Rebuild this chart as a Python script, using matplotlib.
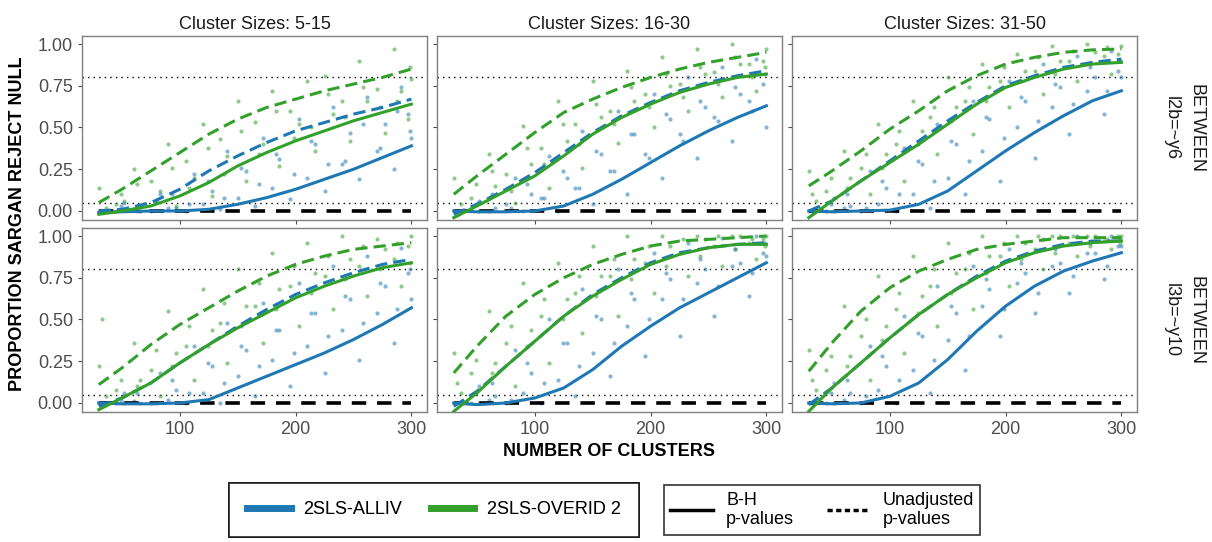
import numpy as np
import matplotlib
matplotlib.use("Agg")
import matplotlib.pyplot as plt
from matplotlib.lines import Line2D

plt.rcParams['font.family'] = ['Liberation Sans', 'DejaVu Sans']

BLUE = '#1F78B4'
GREEN = '#33A02C'

col_titles = ['Cluster Sizes: 5-15', 'Cluster Sizes: 16-30', 'Cluster Sizes: 31-50']
row_labels = ['l2b=~y6', 'l3b=~y10']

# smooth curves
x_curve = [30, 50, 75, 100, 125, 150, 175, 200, 225, 250, 275, 300]
curves = {
    # (row, col): green dashed, green solid, blue dashed, blue solid
    (0, 0): ([0.05, 0.13, 0.24, 0.35, 0.46, 0.55, 0.62, 0.67, 0.72, 0.76, 0.80, 0.85],
             [-0.02, 0.0, 0.03, 0.09, 0.17, 0.27, 0.35, 0.42, 0.48, 0.54, 0.59, 0.64],
             [0.0, 0.01, 0.05, 0.13, 0.24, 0.33, 0.41, 0.48, 0.53, 0.58, 0.62, 0.67],
             [-0.01, -0.005, 0.0, 0.0, 0.01, 0.04, 0.08, 0.13, 0.19, 0.25, 0.32, 0.39]),
    (0, 1): ([0.10, 0.21, 0.34, 0.47, 0.59, 0.67, 0.74, 0.80, 0.85, 0.89, 0.92, 0.95],
             [-0.04, 0.03, 0.12, 0.21, 0.33, 0.46, 0.56, 0.64, 0.71, 0.76, 0.80, 0.82],
             [-0.02, 0.04, 0.13, 0.23, 0.35, 0.47, 0.57, 0.65, 0.72, 0.77, 0.81, 0.84],
             [0.0, -0.005, -0.005, 0.0, 0.03, 0.10, 0.19, 0.29, 0.39, 0.48, 0.56, 0.63]),
    (0, 2): ([0.15, 0.24, 0.36, 0.49, 0.60, 0.72, 0.81, 0.88, 0.92, 0.95, 0.965, 0.97],
             [-0.04, 0.06, 0.18, 0.29, 0.40, 0.52, 0.64, 0.74, 0.80, 0.85, 0.88, 0.89],
             [0.0, 0.06, 0.18, 0.30, 0.42, 0.54, 0.65, 0.75, 0.81, 0.86, 0.89, 0.91],
             [0.0, -0.005, 0.0, 0.005, 0.04, 0.12, 0.24, 0.36, 0.47, 0.57, 0.66, 0.72]),
    (1, 0): ([0.11, 0.21, 0.35, 0.47, 0.57, 0.67, 0.76, 0.83, 0.88, 0.92, 0.94, 0.96],
             [-0.04, 0.03, 0.12, 0.24, 0.35, 0.45, 0.54, 0.63, 0.70, 0.76, 0.81, 0.84],
             [-0.02, 0.03, 0.12, 0.24, 0.35, 0.46, 0.56, 0.65, 0.72, 0.78, 0.83, 0.86],
             [0.0, -0.005, -0.005, 0.0, 0.02, 0.09, 0.16, 0.23, 0.30, 0.38, 0.47, 0.57]),
    (1, 1): ([0.18, 0.34, 0.52, 0.65, 0.75, 0.83, 0.89, 0.94, 0.97, 0.98, 0.99, 1.00],
             [-0.05, 0.06, 0.22, 0.37, 0.52, 0.64, 0.74, 0.83, 0.89, 0.93, 0.95, 0.95],
             [-0.02, 0.07, 0.22, 0.37, 0.52, 0.65, 0.75, 0.84, 0.90, 0.93, 0.95, 0.96],
             [0.0, -0.01, 0.0, 0.03, 0.09, 0.20, 0.34, 0.46, 0.57, 0.66, 0.75, 0.84]),
    (1, 2): ([0.19, 0.36, 0.55, 0.69, 0.79, 0.86, 0.92, 0.95, 0.97, 0.99, 0.99, 0.99],
             [-0.05, 0.09, 0.24, 0.39, 0.53, 0.65, 0.75, 0.84, 0.90, 0.94, 0.96, 0.97],
             [-0.01, 0.09, 0.24, 0.39, 0.53, 0.65, 0.76, 0.85, 0.91, 0.95, 0.97, 0.97],
             [0.0, -0.005, 0.0, 0.04, 0.12, 0.26, 0.43, 0.58, 0.70, 0.79, 0.85, 0.90]),
}

# scatter of the individual conditions (a thinned reading of the clouds)
x_pts = [30, 45, 60, 75, 90, 105, 120, 135, 150, 165, 180, 195, 210, 225, 240, 255, 270, 285, 300]
x_pts2 = [36, 52, 66, 83, 97, 112, 128, 141, 157, 172, 186, 203, 217, 232, 247, 262, 277, 291, 297]
x_pts3 = [33, 49, 63, 79, 93, 108, 124, 138, 153, 168, 183, 199, 213, 228, 243, 258, 273, 288, 299]
points = {
    # green upper, green lower, green middle, blue upper, blue lower, blue middle
    (0, 0): ([0.14, 0.04, 0.25, 0.18, 0.40, 0.30, 0.52, 0.43, 0.66, 0.53, 0.72, 0.60, 0.78, 0.81, 0.66, 0.90, 0.73, 0.97, 0.79],
             [0.02, 0.06, 0.00, 0.12, 0.03, 0.20, 0.09, 0.33, 0.18, 0.40, 0.27, 0.52, 0.36, 0.58, 0.42, 0.66, 0.47, 0.72, 0.55],
             [0.00, 0.10, 0.16, 0.06, 0.26, 0.14, 0.38, 0.22, 0.48, 0.34, 0.60, 0.44, 0.50, 0.70, 0.56, 0.74, 0.62, 0.66, 0.86],
             [0.00, 0.05, 0.00, 0.10, 0.02, 0.22, 0.12, 0.36, 0.24, 0.44, 0.31, 0.55, 0.40, 0.62, 0.47, 0.68, 0.52, 0.74, 0.58],
             [0.00, 0.00, 0.01, 0.00, 0.02, 0.00, 0.04, 0.01, 0.08, 0.03, 0.14, 0.07, 0.20, 0.12, 0.28, 0.19, 0.36, 0.25, 0.44],
             [0.00, 0.03, 0.00, 0.06, 0.10, 0.04, 0.18, 0.08, 0.26, 0.16, 0.34, 0.22, 0.42, 0.28, 0.30, 0.52, 0.38, 0.60, 0.48]),
    (0, 1): ([0.20, 0.08, 0.34, 0.22, 0.51, 0.38, 0.66, 0.52, 0.78, 0.60, 0.84, 0.70, 0.92, 0.76, 0.97, 0.83, 1.00, 0.88, 0.97],
             [0.04, 0.00, 0.15, 0.05, 0.28, 0.14, 0.42, 0.26, 0.56, 0.41, 0.66, 0.50, 0.75, 0.60, 0.82, 0.68, 0.88, 0.72, 0.90],
             [0.00, 0.16, 0.24, 0.12, 0.38, 0.28, 0.52, 0.40, 0.64, 0.52, 0.74, 0.62, 0.82, 0.68, 0.86, 0.76, 0.92, 0.80, 0.86],
             [0.00, 0.06, 0.02, 0.20, 0.10, 0.33, 0.20, 0.48, 0.34, 0.60, 0.46, 0.70, 0.55, 0.80, 0.62, 0.86, 0.70, 0.91, 0.76],
             [0.00, 0.01, 0.00, 0.04, 0.00, 0.08, 0.00, 0.14, 0.04, 0.24, 0.10, 0.34, 0.20, 0.46, 0.32, 0.56, 0.42, 0.66, 0.50],
             [0.00, 0.04, 0.10, 0.02, 0.16, 0.08, 0.24, 0.14, 0.36, 0.24, 0.46, 0.32, 0.58, 0.42, 0.66, 0.54, 0.74, 0.60, 0.82]),
    (0, 2): ([0.24, 0.12, 0.36, 0.26, 0.52, 0.40, 0.66, 0.56, 0.80, 0.66, 0.88, 0.78, 0.94, 0.84, 0.99, 0.90, 1.00, 0.93, 0.99],
             [0.06, 0.00, 0.20, 0.10, 0.34, 0.18, 0.48, 0.34, 0.62, 0.46, 0.74, 0.62, 0.84, 0.70, 0.90, 0.78, 0.95, 0.82, 0.94],
             [0.10, 0.20, 0.14, 0.34, 0.26, 0.48, 0.40, 0.62, 0.54, 0.74, 0.66, 0.86, 0.78, 0.92, 0.82, 0.96, 0.88, 0.98, 0.90],
             [0.00, 0.08, 0.03, 0.24, 0.14, 0.38, 0.28, 0.52, 0.40, 0.66, 0.55, 0.78, 0.66, 0.88, 0.74, 0.93, 0.80, 0.96, 0.84],
             [0.00, 0.00, 0.02, 0.00, 0.04, 0.00, 0.10, 0.02, 0.20, 0.10, 0.36, 0.18, 0.50, 0.32, 0.62, 0.46, 0.72, 0.58, 0.80],
             [0.00, 0.04, 0.10, 0.02, 0.18, 0.10, 0.30, 0.18, 0.42, 0.30, 0.56, 0.44, 0.68, 0.54, 0.76, 0.64, 0.86, 0.72, 0.90]),
    (1, 0): ([0.22, 0.08, 0.36, 0.20, 0.55, 0.34, 0.68, 0.48, 0.80, 0.58, 0.90, 0.70, 0.96, 0.76, 1.00, 0.82, 0.98, 0.86, 1.00],
             [0.04, 0.00, 0.14, 0.04, 0.30, 0.14, 0.44, 0.24, 0.58, 0.36, 0.68, 0.46, 0.78, 0.56, 0.86, 0.64, 0.92, 0.70, 0.94],
             [0.50, 0.14, 0.10, 0.32, 0.22, 0.46, 0.34, 0.60, 0.46, 0.72, 0.56, 0.82, 0.66, 0.88, 0.74, 0.94, 0.80, 0.96, 0.84],
             [0.00, 0.06, 0.00, 0.18, 0.08, 0.34, 0.22, 0.48, 0.32, 0.60, 0.44, 0.72, 0.54, 0.82, 0.62, 0.88, 0.70, 0.93, 0.78],
             [0.00, 0.00, 0.01, 0.00, 0.02, 0.00, 0.06, 0.00, 0.16, 0.04, 0.26, 0.10, 0.34, 0.18, 0.44, 0.26, 0.54, 0.36, 0.62],
             [0.00, 0.02, 0.06, 0.00, 0.14, 0.06, 0.24, 0.12, 0.34, 0.22, 0.44, 0.30, 0.54, 0.40, 0.64, 0.48, 0.72, 0.56, 0.80]),
    (1, 1): ([0.30, 0.18, 0.55, 0.36, 0.72, 0.52, 0.84, 0.66, 0.94, 0.76, 1.00, 0.84, 1.00, 0.90, 1.00, 0.94, 1.00, 0.96, 1.00],
             [0.06, 0.00, 0.24, 0.10, 0.44, 0.24, 0.62, 0.42, 0.76, 0.52, 0.86, 0.66, 0.94, 0.76, 0.98, 0.82, 1.00, 0.86, 0.98],
             [0.12, 0.26, 0.18, 0.46, 0.34, 0.62, 0.50, 0.76, 0.64, 0.86, 0.74, 0.94, 0.82, 0.98, 0.88, 1.00, 0.92, 0.98, 0.94],
             [0.00, 0.10, 0.04, 0.32, 0.18, 0.50, 0.36, 0.68, 0.50, 0.80, 0.62, 0.90, 0.74, 0.96, 0.80, 0.99, 0.84, 1.00, 0.90],
             [0.00, 0.00, 0.02, 0.00, 0.06, 0.00, 0.14, 0.04, 0.30, 0.16, 0.46, 0.28, 0.62, 0.40, 0.72, 0.52, 0.82, 0.64, 0.88],
             [0.00, 0.06, 0.12, 0.02, 0.24, 0.12, 0.36, 0.22, 0.52, 0.36, 0.66, 0.50, 0.78, 0.62, 0.86, 0.70, 0.92, 0.78, 0.96]),
    (1, 2): ([0.32, 0.20, 0.58, 0.40, 0.76, 0.56, 0.88, 0.70, 0.96, 0.80, 1.00, 0.88, 1.00, 0.92, 1.00, 0.96, 1.00, 0.97, 1.00],
             [0.08, 0.00, 0.28, 0.14, 0.46, 0.30, 0.64, 0.46, 0.78, 0.56, 0.88, 0.70, 0.96, 0.80, 1.00, 0.88, 1.00, 0.92, 1.00],
             [0.14, 0.28, 0.22, 0.50, 0.38, 0.66, 0.54, 0.80, 0.66, 0.90, 0.78, 0.96, 0.86, 1.00, 0.90, 1.00, 0.94, 0.98, 0.96],
             [0.00, 0.12, 0.06, 0.34, 0.22, 0.52, 0.40, 0.70, 0.54, 0.82, 0.68, 0.92, 0.78, 0.98, 0.84, 1.00, 0.90, 1.00, 0.94],
             [0.00, 0.00, 0.02, 0.00, 0.08, 0.00, 0.20, 0.06, 0.38, 0.20, 0.58, 0.40, 0.72, 0.54, 0.82, 0.66, 0.90, 0.74, 0.94],
             [0.00, 0.06, 0.14, 0.04, 0.28, 0.14, 0.42, 0.26, 0.58, 0.40, 0.74, 0.56, 0.84, 0.66, 0.92, 0.76, 0.96, 0.82, 0.98]),
}

fig = plt.figure(figsize=(12.12, 5.42), dpi=100)
fig.patch.set_facecolor('white')

lefts = [82, 437, 792]
tops = [36, 228]
pw, ph = 345, 184
W, H = 1212, 542

for r in range(2):
    for c in range(3):
        ax = fig.add_axes([lefts[c] / W, 1 - (tops[r] + ph) / H, pw / W, ph / H])
        gd, gs_, bd, bs = curves[(r, c)]
        gu, gl, gm, bu, bl, bm = points[(r, c)]
        for xs, ys, col in [(x_pts, gu, GREEN), (x_pts2, gl, GREEN), (x_pts3, gm, GREEN),
                            (x_pts2, bu, BLUE), (x_pts, bl, BLUE), (x_pts3, bm, BLUE)]:
            ax.scatter(xs, ys, s=9, color=col, alpha=0.55, lw=0, zorder=2)
        ax.axhline(0.8, color='black', ls=(0, (1, 3)), lw=1, zorder=1)
        ax.axhline(0.05, color='black', ls=(0, (1, 3)), lw=1, zorder=1)
        ax.plot([30, 300], [0, 0], color='black', lw=2.6, ls=(0, (4, 3)), zorder=3)
        ax.plot(x_curve, bd, color=BLUE, lw=2.2, ls=(0, (4, 2)), zorder=4)
        ax.plot(x_curve, bs, color=BLUE, lw=2.2, zorder=4)
        ax.plot(x_curve, gd, color=GREEN, lw=2.2, ls=(0, (4, 2)), zorder=5)
        ax.plot(x_curve, gs_, color=GREEN, lw=2.2, zorder=5)
        ax.set_xlim(15.5, 313.5)
        ax.set_ylim(-0.054, 1.048)
        ax.set_xticks([100, 200, 300])
        ax.set_yticks([0, 0.25, 0.5, 0.75, 1.0])
        ax.set_yticklabels(['0.00', '0.25', '0.50', '0.75', '1.00'])
        ax.tick_params(colors='#4d4d4d', labelsize=13, length=3, width=0.8)
        for sp in ax.spines.values():
            sp.set_color('#7f7f7f')
            sp.set_linewidth(1)
        if c > 0:
            ax.tick_params(labelleft=False)
        if r == 0:
            ax.tick_params(labelbottom=False)
            ax.set_title(col_titles[c], fontsize=13, color='#1a1a1a', pad=5)
        if c == 2:
            ax.text(1.10, 0.5, row_labels[r], transform=ax.transAxes, rotation=270,
                    ha='center', va='center', fontsize=13, color='#1a1a1a')
            ax.text(1.172, 0.5, 'BETWEEN', transform=ax.transAxes, rotation=270,
                    ha='center', va='center', fontsize=13, color='#1a1a1a')

fig.text(18 / W, 1 - 224 / H, 'PROPORTION SARGAN REJECT NULL', rotation=90,
         ha='center', va='center', fontsize=13, fontweight='bold')
fig.text(609 / W, 1 - 452 / H, 'NUMBER OF CLUSTERS', ha='center', va='center',
         fontsize=13, fontweight='bold')

method_names = ['2SLS-ALLIV', '2SLS-OVERID 2']
pval_names = ['B-H\np-values', 'Unadjusted\np-values']

h1 = [Line2D([], [], color=BLUE, lw=5), Line2D([], [], color=GREEN, lw=5)]
leg1 = fig.legend(h1, method_names, loc='center', bbox_to_anchor=(434 / W, 1 - 510 / H),
                  ncol=2, frameon=True, fancybox=False, edgecolor='black', fontsize=13,
                  handlelength=2.4, columnspacing=1.6, borderpad=1.0, borderaxespad=0,
                  handletextpad=0.7)
leg1.get_frame().set_linewidth(1.2)
h2 = [Line2D([], [], color='black', lw=2.5), Line2D([], [], color='black', lw=2.5, ls=(0, (1.5, 1)))]
leg2 = fig.legend(h2, pval_names, loc='center', bbox_to_anchor=(822 / W, 1 - 510 / H),
                  ncol=2, frameon=True, fancybox=False, edgecolor='black', fontsize=13,
                  handlelength=2.4, columnspacing=1.8, borderpad=0.35, borderaxespad=0,
                  handletextpad=0.7)
leg2.get_frame().set_linewidth(1.2)
for t in leg2.get_texts():
    t.set_multialignment('left')
fig.add_artist(leg1)

fig.savefig('out.png', dpi=100)
